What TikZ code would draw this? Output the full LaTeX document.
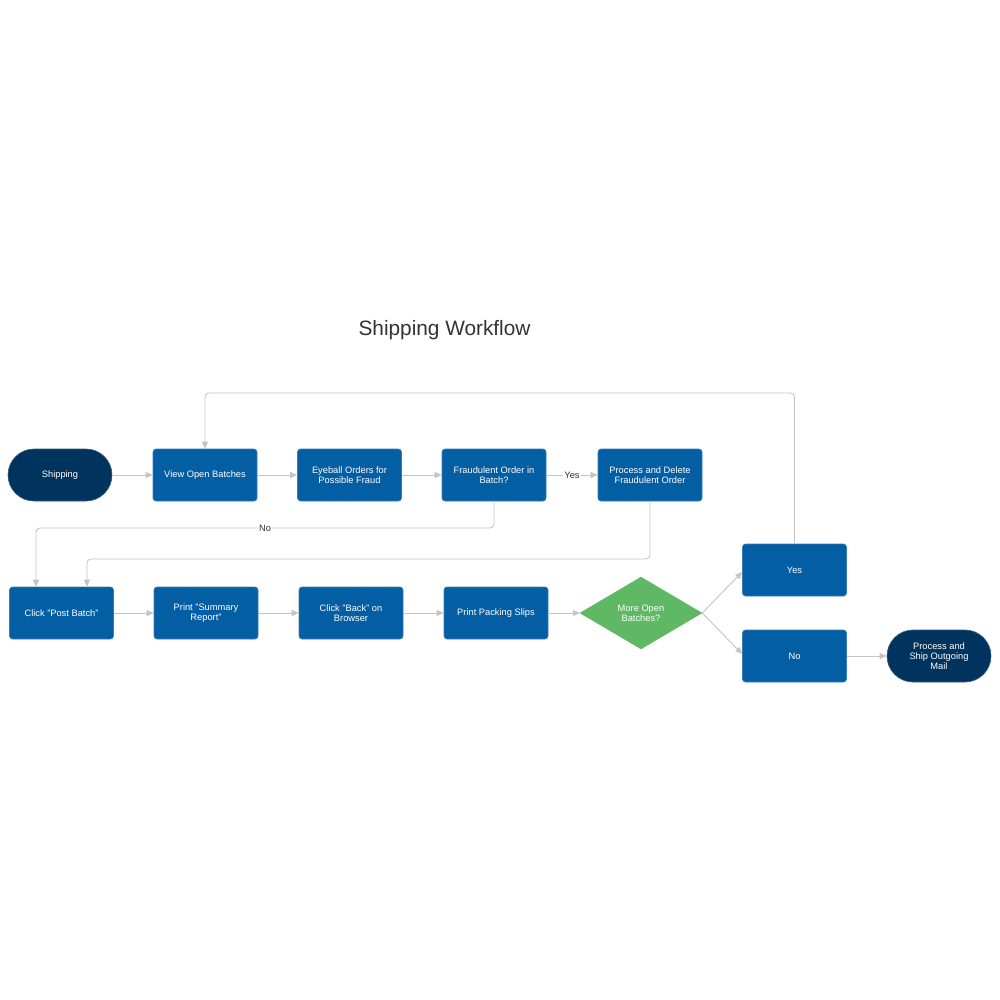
\documentclass[tikz,border=0pt]{standalone}
\usepackage{fontspec}
\setmainfont{Liberation Sans}
\usetikzlibrary{arrows.meta,shapes.geometric}
\definecolor{boxblue}{HTML}{045EA4}
\definecolor{navy}{HTML}{00335E}
\definecolor{dgreen}{HTML}{5FB864}
\definecolor{conn}{HTML}{C4C4C4}
\definecolor{txtgray}{HTML}{333333}
\tikzset{
  procbox/.style={rectangle, rounded corners=3pt, fill=boxblue, draw=boxblue!80!white, line width=0.6pt,
    minimum width=104pt, minimum height=52pt, inner sep=0pt, align=center, text=white,
    font=\fontsize{9.3}{10}\selectfont},
  termbox/.style={rectangle, rounded corners=26pt, fill=navy, draw=navy!80!white, line width=0.6pt,
    minimum width=104pt, minimum height=52pt, inner sep=0pt, align=center, text=white,
    font=\fontsize{9.3}{10}\selectfont},
  decbox/.style={diamond, aspect=1.694, fill=dgreen, draw=dgreen, minimum width=122pt, minimum height=72pt,
    inner sep=0pt, align=center, text=white, font=\fontsize{9.3}{10}\selectfont},
  link/.style={draw=conn, line width=0.9pt, -{Triangle[length=7pt,width=6pt]}, rounded corners=4pt},
  lbl/.style={fill=white, text=txtgray, inner sep=1pt, font=\fontsize{9.3}{10}\selectfont}
}
\begin{document}
\begin{tikzpicture}[x=1pt,y=-1pt]
\useasboundingbox[fill=white] (0,0) rectangle (1000,1000);
\node[text=txtgray, font=\fontsize{20.8}{24}\selectfont] (title) at (444.5,330) {Shipping Workflow};

\node[termbox] (ship) at (60,475) {Shipping};
\node[procbox] (view) at (205,475) {View Open Batches};
\node[procbox] (eye) at (349.5,475) {Eyeball Orders for\\Possible Fraud};
\node[procbox] (fraud) at (494,475) {Fraudulent Order in\\Batch?};
\node[procbox] (proc) at (650,475) {Process and Delete\\Fraudulent Order};

\node[procbox] (post) at (61.5,613) {Click "Post Batch"};
\node[procbox] (summ) at (206,613) {Print "Summary\\Report"};
\node[procbox] (back) at (351,613) {Click "Back" on\\Browser};
\node[procbox] (pack) at (496,613) {Print Packing Slips};
\node[decbox] (more) at (641,613) {More Open\\Batches?};

\node[procbox] (yes) at (794.5,570) {Yes};
\node[procbox] (no) at (794.5,656) {No};
\node[termbox] (mail) at (939,656) {Process and\\Ship Outgoing\\Mail};

\draw[link] (ship) -- (view);
\draw[link] (view) -- (eye);
\draw[link] (eye) -- (fraud);
\draw[link] (fraud) -- node[lbl] {Yes} (proc);
\draw[link] (fraud.south) -- (494,528) -- node[lbl, pos=0.5] {No} (36,528) -- (post.north -| 36,0);
\draw[link] (proc.south) -- (650,559) -- (87,559) -- (post.north -| 87,0);
\draw[link] (post) -- (summ);
\draw[link] (summ) -- (back);
\draw[link] (back) -- (pack);
\draw[link] (pack) -- (more);
\draw[link] (more.east) -- ([yshift=-2pt]yes.west);
\draw[link] (more.east) -- ([yshift=2pt]no.west);
\draw[link] (yes.north) -- (794.5,393) -- (205,393) -- (view.north);
\draw[link] (no) -- (mail);
\end{tikzpicture}
\end{document}
